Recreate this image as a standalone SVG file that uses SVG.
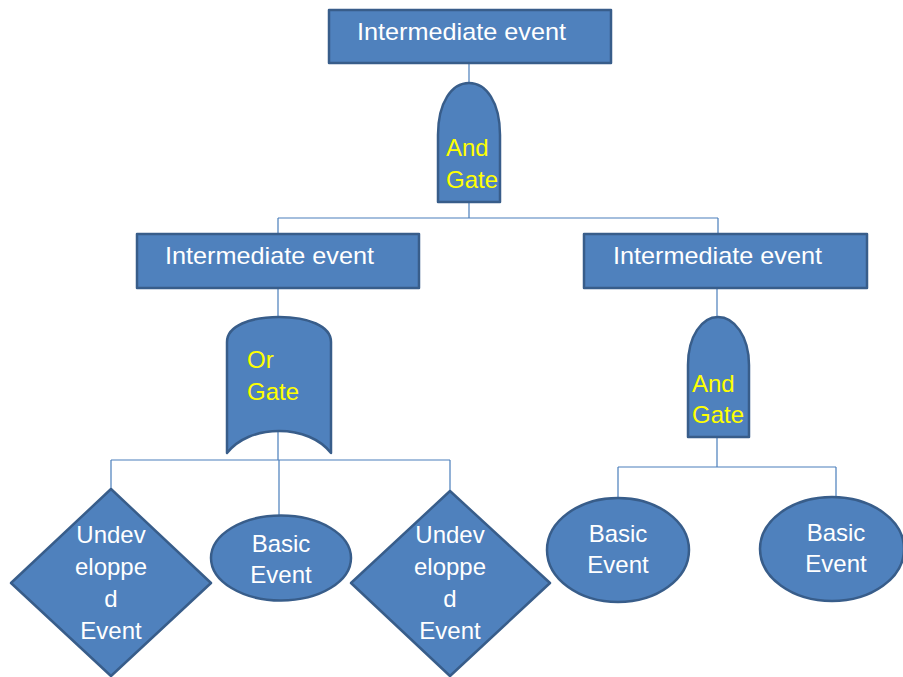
<svg xmlns="http://www.w3.org/2000/svg" width="903" height="677" viewBox="0 0 903 677">
  <style>
    .shape { fill: #4F81BD; stroke: #385D8A; stroke-width: 2.5; stroke-linejoin: round; }
    .wire { fill: none; stroke: #4A7EBB; stroke-width: 1.2; }
    .lbl { font-family: "Liberation Sans", Arial, sans-serif; font-size: 24px; fill: #FFFFFF; }
    .gate { fill: #FFFF00; }
    .mid { text-anchor: middle; }
  </style>

  <!-- connectors, drawn first so the shapes sit on top -->
  <g id="connectors">
    <path class="wire" d="M469,63 V83"/>
    <path class="wire" d="M469,202 V218 M278,218 H718 M278,218 V234 M718,218 V234"/>
    <path class="wire" d="M278,288 V460 M111,460 H450 M111,460 V489 M279,460 V516 M450,460 V491"/>
    <path class="wire" d="M717,288 V317"/>
    <path class="wire" d="M717,437 V467 M618,467 H836 M618,467 V498 M836,467 V497"/>
  </g>

  <!-- top event -->
  <g id="top-event">
    <rect class="shape" x="329" y="10" width="282" height="53"/>
    <text class="lbl" x="357" y="40" textLength="209" lengthAdjust="spacingAndGlyphs">Intermediate event</text>
  </g>

  <!-- AND gate under the top event -->
  <g id="and-gate-1">
    <path class="shape" d="M438,202 V135 C438,102 452,83 469,83 C486,83 500,102 500,135 V202 Z"/>
    <text class="lbl gate" x="446" y="156">And</text>
    <text class="lbl gate" x="446" y="188">Gate</text>
  </g>

  <!-- left intermediate event -->
  <g id="event-left">
    <rect class="shape" x="137" y="234" width="282" height="54"/>
    <text class="lbl" x="165" y="264" textLength="209" lengthAdjust="spacingAndGlyphs">Intermediate event</text>
  </g>

  <!-- right intermediate event -->
  <g id="event-right">
    <rect class="shape" x="584" y="234" width="283" height="54"/>
    <text class="lbl" x="613" y="264" textLength="209" lengthAdjust="spacingAndGlyphs">Intermediate event</text>
  </g>

  <!-- OR gate -->
  <g id="or-gate">
    <path class="shape" d="M227,453 V342 C227,326 250,317 279,317 C308,317 331,326 331,342 V453 C320,439 301,431 279,431 C257,431 238,439 227,453 Z"/>
    <text class="lbl gate" x="247" y="368">Or</text>
    <text class="lbl gate" x="247" y="400">Gate</text>
  </g>

  <!-- AND gate on the right -->
  <g id="and-gate-2">
    <path class="shape" d="M688,437 V365 C688,336 702,317 718,317 C734,317 749,336 749,365 V437 Z"/>
    <text class="lbl gate" x="692" y="392">And</text>
    <text class="lbl gate" x="692" y="423">Gate</text>
  </g>

  <!-- undeveloped event, left -->
  <g id="undeveloped-1">
    <polygon class="shape" points="111,489 211,583 111,676 11,583"/>
    <text class="lbl mid" x="111" y="543">Undev</text>
    <text class="lbl mid" x="111" y="575">eloppe</text>
    <text class="lbl mid" x="111" y="607">d</text>
    <text class="lbl mid" x="111" y="639">Event</text>
  </g>

  <!-- basic event under the OR gate -->
  <g id="basic-1">
    <ellipse class="shape" cx="281" cy="558" rx="70" ry="42.5"/>
    <text class="lbl mid" x="281" y="552">Basic</text>
    <text class="lbl mid" x="281" y="583">Event</text>
  </g>

  <!-- undeveloped event, right -->
  <g id="undeveloped-2">
    <polygon class="shape" points="450,491 550,583 450,676 351,583"/>
    <text class="lbl mid" x="450" y="543">Undev</text>
    <text class="lbl mid" x="450" y="575">eloppe</text>
    <text class="lbl mid" x="450" y="607">d</text>
    <text class="lbl mid" x="450" y="639">Event</text>
  </g>

  <!-- basic events under the right AND gate -->
  <g id="basic-2">
    <ellipse class="shape" cx="618" cy="550" rx="71" ry="52"/>
    <text class="lbl mid" x="618" y="542">Basic</text>
    <text class="lbl mid" x="618" y="573">Event</text>
  </g>

  <g id="basic-3">
    <ellipse class="shape" cx="832" cy="549" rx="72" ry="52"/>
    <text class="lbl mid" x="836" y="541">Basic</text>
    <text class="lbl mid" x="836" y="572">Event</text>
  </g>
</svg>
